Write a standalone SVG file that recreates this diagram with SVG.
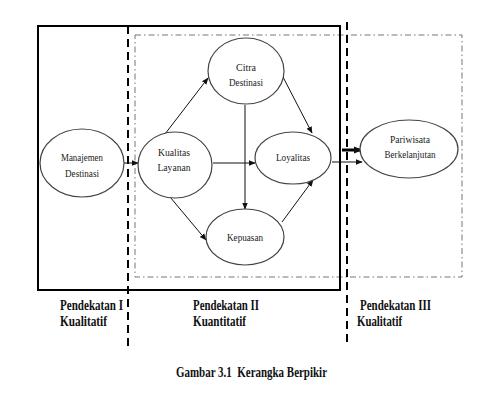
<svg xmlns="http://www.w3.org/2000/svg" width="485" height="401" viewBox="0 0 485 401">
<style>
.node{fill:#fff;stroke:#444;stroke-width:1.2}
.nt{font-size:11px;fill:#222;text-anchor:middle}
.lbl{font-size:14px;font-weight:bold;fill:#111}
.arr{stroke:#111;stroke-width:1;fill:none;marker-end:url(#ah)}
</style>
<defs>
<marker id="ah" viewBox="0 0 10 10" refX="9" refY="5" markerWidth="7" markerHeight="7" markerUnits="userSpaceOnUse" orient="auto"><path d="M0,1 L10,5 L0,9 z" fill="#111"/></marker>
<marker id="ahb" viewBox="0 0 10 10" refX="9" refY="5" markerWidth="9" markerHeight="9" markerUnits="userSpaceOnUse" orient="auto"><path d="M0,1 L10,5 L0,9 z" fill="#111"/></marker>
</defs>
<rect width="485" height="401" fill="#fff"/>
<g id="frames">
<rect x="135" y="35" width="327" height="242" fill="none" stroke="#777" stroke-width="1" stroke-dasharray="6 3 1.5 3"/>
<rect x="38" y="26" width="302" height="264" fill="none" stroke="#000" stroke-width="2"/>
<line x1="128" y1="26" x2="128" y2="347" stroke="#000" stroke-width="2" stroke-dasharray="8 5"/>
<line x1="347" y1="22" x2="347" y2="345" stroke="#000" stroke-width="2" stroke-dasharray="8 5"/>
</g>
<g id="connectors">
<line class="arr" x1="124" y1="163" x2="138" y2="163"/>
<line class="arr" x1="165" y1="134" x2="208" y2="78"/>
<line class="arr" x1="283" y1="77" x2="312" y2="133"/>
<line class="arr" x1="213" y1="163" x2="255" y2="163"/>
<line class="arr" x1="245" y1="105" x2="245" y2="209"/>
<line class="arr" x1="170" y1="197" x2="206" y2="240"/>
<line class="arr" x1="282" y1="222" x2="313" y2="180"/>
<line class="arr" x1="332" y1="162" x2="362" y2="162"/>
<line x1="342" y1="150" x2="362" y2="150" stroke="#000" stroke-width="3" marker-end="url(#ahb)"/>
</g>
<g font-family="Liberation Serif, Times New Roman, serif">
<g id="n-manajemen">
<ellipse class="node" cx="82" cy="163" rx="42" ry="34"/>
<text class="nt" x="82" y="161" textLength="42" lengthAdjust="spacingAndGlyphs">Manajemen</text>
<text class="nt" x="82" y="177" textLength="34" lengthAdjust="spacingAndGlyphs">Destinasi</text>
</g>
<g id="n-kualitas">
<ellipse class="node" cx="175" cy="165" rx="37" ry="33"/>
<text class="nt" x="174" y="156" textLength="32" lengthAdjust="spacingAndGlyphs">Kualitas</text>
<text class="nt" x="174" y="171" textLength="33" lengthAdjust="spacingAndGlyphs">Layanan</text>
</g>
<g id="n-citra">
<ellipse class="node" cx="246" cy="71" rx="38" ry="33"/>
<text class="nt" x="246" y="71" textLength="20" lengthAdjust="spacingAndGlyphs">Citra</text>
<text class="nt" x="246" y="86" textLength="34" lengthAdjust="spacingAndGlyphs">Destinasi</text>
</g>
<g id="n-loyalitas">
<ellipse class="node" cx="293" cy="158" rx="38" ry="26"/>
<text class="nt" x="293" y="161" textLength="34" lengthAdjust="spacingAndGlyphs">Loyalitas</text>
</g>
<g id="n-kepuasan">
<ellipse class="node" cx="245" cy="237" rx="39" ry="28"/>
<text class="nt" x="245" y="241" textLength="36" lengthAdjust="spacingAndGlyphs">Kepuasan</text>
</g>
<g id="n-pariwisata">
<ellipse class="node" cx="409" cy="149" rx="49" ry="29"/>
<text class="nt" x="410" y="143" textLength="40" lengthAdjust="spacingAndGlyphs">Pariwisata</text>
<text class="nt" x="410" y="158" textLength="51" lengthAdjust="spacingAndGlyphs">Berkelanjutan</text>
</g>
<g id="labels">
<text class="lbl" x="60" y="310" textLength="63" lengthAdjust="spacingAndGlyphs">Pendekatan I</text>
<text class="lbl" x="60" y="326" textLength="47" lengthAdjust="spacingAndGlyphs">Kualitatif</text>
<text class="lbl" x="193" y="310" textLength="66" lengthAdjust="spacingAndGlyphs">Pendekatan II</text>
<text class="lbl" x="193" y="326" textLength="53" lengthAdjust="spacingAndGlyphs">Kuantitatif</text>
<text class="lbl" x="360" y="310" textLength="71" lengthAdjust="spacingAndGlyphs">Pendekatan III</text>
<text class="lbl" x="357" y="326" textLength="45" lengthAdjust="spacingAndGlyphs">Kualitatif</text>
<text class="lbl" x="176" y="377" font-size="13" textLength="151" lengthAdjust="spacingAndGlyphs" xml:space="preserve">Gambar 3.1  Kerangka Berpikir</text>
</g>
</g>
</svg>
